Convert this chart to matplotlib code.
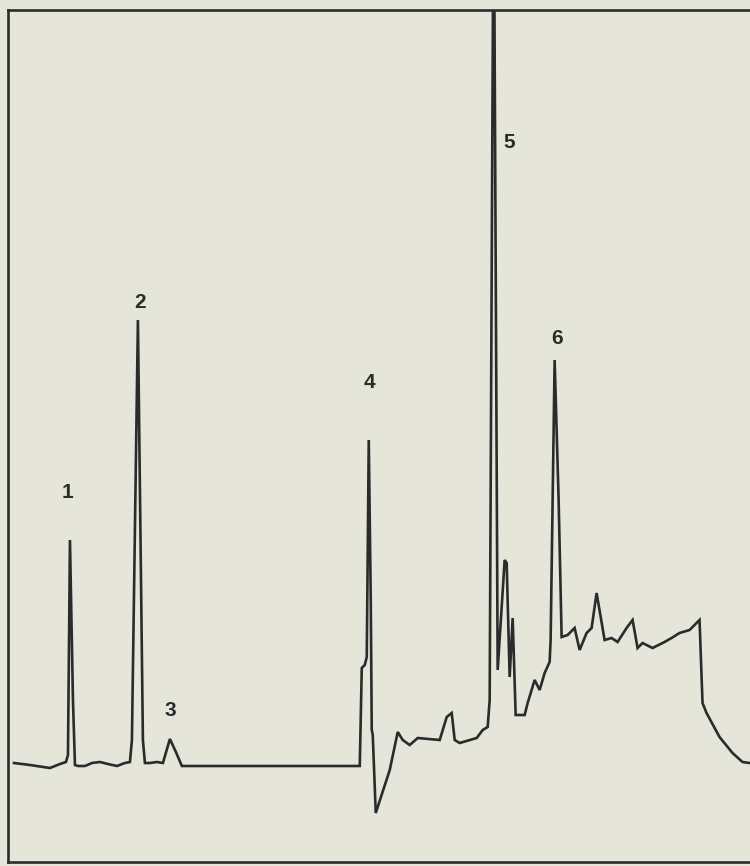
import numpy as np
import matplotlib.pyplot as plt

# Chromatogram trace (time units, detector response)
time = [14, 30, 50, 60, 66, 68, 70, 73, 75, 78, 85, 92, 100, 108, 117, 125,
        130, 132, 138, 143, 145, 150, 157, 163, 170, 176, 182, 360, 362, 365,
        367, 369, 371, 372, 373, 376, 390, 398, 403, 410, 418, 440, 447, 452,
        455, 460, 477, 483, 488, 490, 494, 498, 505, 507, 510, 513, 516, 525,
        528, 535, 540, 545, 550, 551, 555, 559, 562, 568, 575, 580, 587, 592,
        597, 605, 612, 618, 627, 633, 638, 643, 653, 665, 672, 680, 690, 700,
        703, 707, 720, 733, 743, 750]
response = [99, 97, 94, 98, 100, 107, 322, 162, 97, 96, 96, 99, 100, 98, 96,
            99, 100, 122, 542, 122, 99, 99, 100, 99, 123, 110, 96, 96, 194,
            197, 205, 422, 262, 132, 127, 49, 92, 130, 122, 117, 124, 122,
            145, 149, 122, 119, 124, 132, 135, 162, 1012, 192, 302, 299, 185,
            244, 147, 147, 159, 182, 172, 189, 200, 222, 502, 362, 225, 227,
            234, 212, 229, 234, 269, 222, 224, 220, 234, 242, 214, 219, 214,
            220, 224, 229, 232, 242, 159, 149, 125, 109, 100, 99]

# Peak numbers and where their labels sit
peak_labels = ["1", "2", "3", "4", "5", "6"]
label_time = [68, 140, 170, 370, 510, 557]
label_resp = [370, 560, 152, 480, 719, 524]

bg = "#e5e5da"
ink = "#2b2b2b"

fig = plt.figure(figsize=(7.5, 8.66), dpi=100, facecolor=bg)
ax = fig.add_axes([8 / 750, 4 / 866, 1 - 8 / 750 + 0.002, 852 / 866])
ax.set_facecolor(bg)

ax.plot(time, response, color=ink, linewidth=1.9, solid_joinstyle="miter")

for lab, x, y in zip(peak_labels, label_time, label_resp):
    ax.text(x, y, lab, ha="center", va="center", fontsize=15,
            fontweight="bold", family=["Liberation Sans", "DejaVu Sans"],
            color=ink)

ax.set_xlim(8, 752)
ax.set_ylim(0, 852)
ax.set_xticks([])
ax.set_yticks([])
for side in ["left", "top", "bottom"]:
    ax.spines[side].set_color(ink)
    ax.spines[side].set_linewidth(1.9)
ax.spines["right"].set_visible(False)

fig.savefig("out.png", dpi=100, facecolor=bg)
